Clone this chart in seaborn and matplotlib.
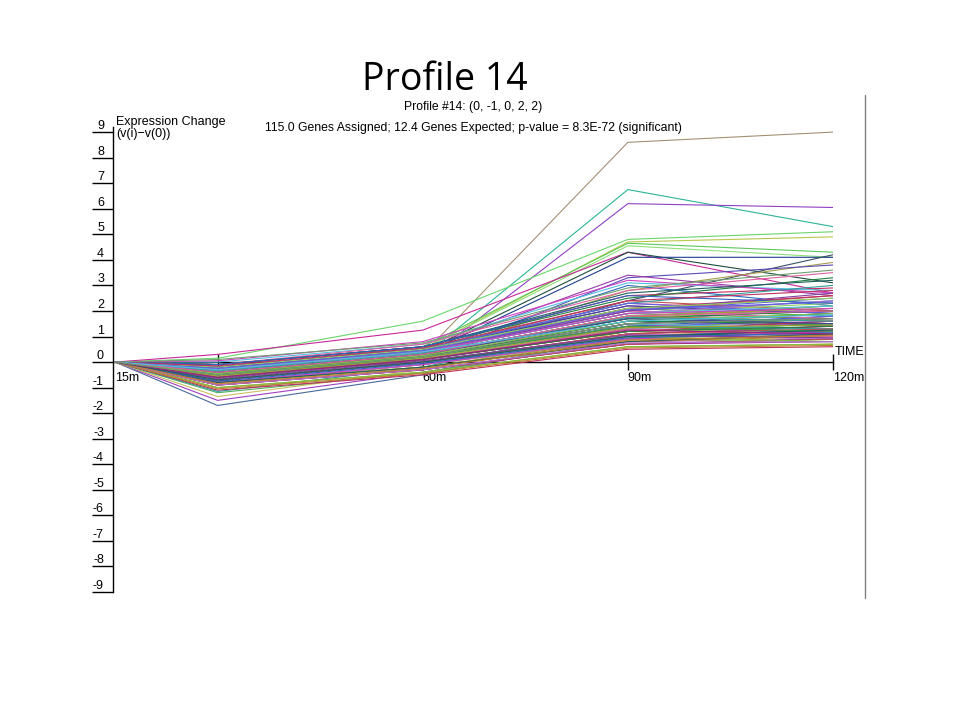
import matplotlib
matplotlib.use("Agg")
import matplotlib.pyplot as plt
from matplotlib.lines import Line2D
import pandas as pd
import seaborn as sns

# time points (minutes) and their labels
time_points = [15, 30, 60, 90, 120]
time_labels = ["15m", "30m", "60m", "90m", "120m"]

# expression change v(i) - v(0) per gene, one list per time point (15m is always 0)
expr_30m = [
    -0.5, -0.3, -0.4, 0.15, -0.2, -0.3, -0.2, 0.3, -0.3, -0.5,
    -0.6, -0.4, -0.5, -0.3, -0.2, -1.7, -1.5, -1.35, -1.2, -1.15,
    -0.6, -0.3, -0.8, -0.1, -0.5, -0.9, -0.2, -0.4, -0.7, -1.0,
    -0.3, -0.6, 0.0, -0.5, -0.8, -0.2, -0.4, -0.9, -0.6, -0.1,
    -0.7, -0.3, -0.5, -1.1, -0.4, -0.2, -0.6, -0.8, -0.3, -0.5,
    -0.1, -0.7, -0.4, -0.9, -0.6, -0.2, -0.5, -0.3, -0.8, -0.4,
    0.05, -0.6, -0.7, -0.3, -1.0, -0.5, -0.2, -0.4, -0.6, -0.8,
    -0.3, -0.1, -0.5, -0.7, -0.4, -0.9, -0.2, -0.6, -0.3, -0.5,
    -0.8, -0.4, -0.1, -0.6, -0.7, -0.3, -0.5, -1.05, -0.2, -0.4,
    -0.6, -0.8, -0.3, -0.5, 0.1, -0.7, -0.4, -0.2, -0.9, -0.6,
    -0.3, -0.5, -0.75, -0.15, -0.45, -0.65, -0.35, -0.85, -0.25, -0.55,
    -0.4, -0.7, -0.3, -0.6, -0.5,
]
expr_60m = [
    0.3, 0.2, 0.0, 1.6, 0.5, 0.6, 0.5, 1.25, 0.4, 0.3,
    0.2, 0.3, 0.1, 0.5, 0.4, -0.5, -0.4, -0.3, -0.4, -0.2,
    0.2, 0.5, -0.1, 0.6, 0.3, -0.3, 0.4, 0.1, 0.0, -0.4,
    0.5, 0.2, 0.7, 0.3, -0.2, 0.4, 0.1, -0.1, 0.3, 0.6,
    0.0, 0.4, 0.2, -0.5, 0.3, 0.5, 0.1, -0.2, 0.4, 0.2,
    0.7, 0.0, 0.3, -0.3, 0.1, 0.5, 0.2, 0.4, -0.1, 0.3,
    0.8, 0.1, 0.0, 0.4, -0.4, 0.2, 0.5, 0.3, 0.1, -0.2,
    0.4, 0.6, 0.2, 0.0, 0.3, -0.3, 0.5, 0.1, 0.4, 0.2,
    -0.1, 0.3, 0.6, 0.1, 0.0, 0.4, 0.2, -0.45, 0.5, 0.3,
    0.1, -0.2, 0.4, 0.2, 0.75, 0.0, 0.3, 0.5, -0.3, 0.1,
    0.4, 0.2, -0.05, 0.55, 0.25, 0.05, 0.35, -0.25, 0.45, 0.15,
    0.3, 0.0, 0.4, 0.1, 0.2,
]
expr_90m = [
    8.6, 6.75, 6.2, 4.8, 4.7, 4.65, 4.55, 4.3, 4.3, 4.1,
    2.4, 2.8, 3.3, 3.4, 3.0, 1.0, 0.8, 1.2, 0.9, 1.5,
    1.4, 2.1, 0.9, 2.6, 1.7, 0.7, 1.9, 1.2, 1.0, 0.6,
    2.3, 1.5, 3.1, 1.8, 0.8, 2.0, 1.3, 0.9, 1.6, 2.5,
    1.1, 1.9, 1.4, 0.5, 1.7, 2.2, 1.2, 0.8, 2.0, 1.5,
    2.8, 1.0, 1.8, 0.7, 1.3, 2.4, 1.6, 1.9, 1.1, 1.7,
    3.2, 1.2, 1.0, 2.1, 0.6, 1.4, 2.3, 1.8, 1.3, 0.9,
    2.0, 2.7, 1.5, 1.1, 1.8, 0.7, 2.2, 1.3, 1.9, 1.6,
    0.9, 1.7, 2.6, 1.2, 1.0, 2.0, 1.4, 0.55, 2.3, 1.8,
    1.3, 0.8, 1.9, 1.5, 2.9, 1.1, 1.7, 2.1, 0.75, 1.2,
    1.9, 1.4, 0.95, 2.4, 1.6, 1.05, 1.75, 0.85, 2.05, 1.35,
    1.8, 1.0, 1.6, 1.25, 1.5,
]
expr_120m = [
    9.0, 5.3, 6.05, 5.1, 4.9, 4.3, 4.1, 2.7, 3.1, 4.1,
    4.2, 3.9, 3.8, 2.6, 2.2, 1.2, 0.9, 1.0, 1.3, 1.1,
    1.6, 1.8, 1.2, 2.9, 1.5, 0.9, 2.4, 1.0, 1.3, 0.7,
    2.0, 1.9, 2.8, 1.4, 1.1, 2.6, 1.2, 0.8, 2.1, 3.3,
    0.9, 1.7, 1.8, 0.6, 2.2, 1.9, 1.5, 1.0, 2.5, 1.3,
    3.5, 1.2, 1.6, 0.8, 1.7, 2.0, 1.4, 2.3, 0.9, 2.0,
    2.7, 1.5, 1.1, 2.6, 0.7, 1.2, 3.0, 1.6, 1.8, 1.0,
    1.7, 3.2, 1.3, 1.4, 2.2, 0.9, 1.9, 1.1, 2.4, 1.5,
    1.2, 1.5, 2.3, 1.6, 0.8, 2.7, 1.3, 0.65, 1.9, 2.1,
    1.0, 1.1, 2.2, 1.7, 3.6, 1.3, 1.5, 2.5, 0.8, 1.4,
    2.1, 1.2, 1.15, 2.8, 1.9, 0.95, 1.6, 1.05, 2.35, 1.45,
    2.0, 1.25, 1.85, 1.1, 1.7,
]

y_ticks = list(range(-9, 10))

# colours: the outlying genes first, then a cycle for the bulk
outlier_colors = [
    "#a39174", "#2bb594", "#8e3fc4", "#6ad56a", "#b8c84a", "#5bc85b", "#8ee07a",
    "#c8289a", "#1e4d3c", "#1f3f8f", "#3a5068", "#a8a050", "#5a4ab8", "#9a3aa8",
    "#2a6ac0", "#4a6a9a", "#a040c0", "#c8c060", "#50b060", "#2a9a9a",
]
bulk_colors = [
    "#d040c0", "#40a040", "#3060c0", "#c03060", "#80c040", "#8040a0", "#30a0a0",
    "#c08030", "#6060e0", "#a0a030", "#e060a0", "#206060", "#50c0e0", "#a02080",
    "#70a070", "#c05050", "#4040a0", "#90d060", "#b070d0", "#208040",
]

n_genes = len(expr_30m)
rows = []
for g in range(n_genes):
    values = [0.0, expr_30m[g], expr_60m[g], expr_90m[g], expr_120m[g]]
    for t, v in zip(time_points, values):
        rows.append({"gene": g, "time": t, "expr": v})
df = pd.DataFrame(rows)

palette = {}
for g in range(n_genes):
    if g < len(outlier_colors):
        palette[g] = outlier_colors[g]
    else:
        palette[g] = bulk_colors[(g - len(outlier_colors)) % len(bulk_colors)]

sns.set_style("white")
plt.rcParams["font.family"] = ["Liberation Sans", "DejaVu Sans"]
plt.rcParams["text.color"] = "black"
plt.rcParams["xtick.color"] = "black"
plt.rcParams["ytick.color"] = "black"

fig = plt.figure(figsize=(9.6, 7.2), dpi=100)
ax = fig.add_axes([113 / 960, 1 - 592 / 720, 720 / 960, (592 - 127) / 720])

sns.lineplot(data=df, x="time", y="expr", hue="gene", units="gene", estimator=None,
             palette=palette, legend=False, linewidth=0.8, ax=ax, zorder=3)

ax.set_xlim(14.7, 120)
ax.set_ylim(-9, 9.2)

for s in ["top", "right"]:
    ax.spines[s].set_visible(False)
ax.spines["bottom"].set_position(("data", 0))
ax.spines["left"].set_color("black")
ax.spines["bottom"].set_color("black")
ax.spines["left"].set_linewidth(1)
ax.spines["bottom"].set_linewidth(1)

ax.set_xticks(time_points)
ax.set_xticklabels(time_labels, ha="left", fontsize=9)
ax.tick_params(axis="x", bottom=True, direction="inout", length=12, width=1, pad=1)
# no tick mark at the first time point, it sits on the y axis
ax.xaxis.get_major_ticks()[0].tick1line.set_visible(False)

ax.set_yticks(y_ticks)
ax.set_yticklabels([str(v) for v in y_ticks], va="bottom", fontsize=9)
ax.tick_params(axis="y", left=True, direction="out", length=15, width=1, pad=-8.5)
ax.set_xlabel("")
ax.set_ylabel("")

ax.text(15.2, 9.41, "Expression Change", fontsize=9, va="center", ha="left")
ax.text(15.2, 8.94, "(v(i)\u2212v(0))", fontsize=9, va="center", ha="left")
ax.text(120.3, 0.15, "TIME", fontsize=9, va="bottom", ha="left")

fig.text(445 / 960, 1 - 80 / 720, "Profile 14", fontsize=27, ha="center", va="center",
         family=["Open Sans", "DejaVu Sans"])
fig.text(473 / 960, 1 - 107 / 720, "Profile #14: (0, -1, 0, 2, 2)", fontsize=8.7,
         ha="center", va="center")
fig.text(473 / 960, 1 - 128 / 720,
         "115.0 Genes Assigned; 12.4 Genes Expected; p-value = 8.3E-72 (significant)",
         fontsize=8.8, ha="center", va="center")

fig.add_artist(Line2D([865 / 960, 865 / 960], [1 - 95 / 720, 1 - 598 / 720],
                      color="#808080", linewidth=1, transform=fig.transFigure))

fig.savefig("out.png", dpi=100)
